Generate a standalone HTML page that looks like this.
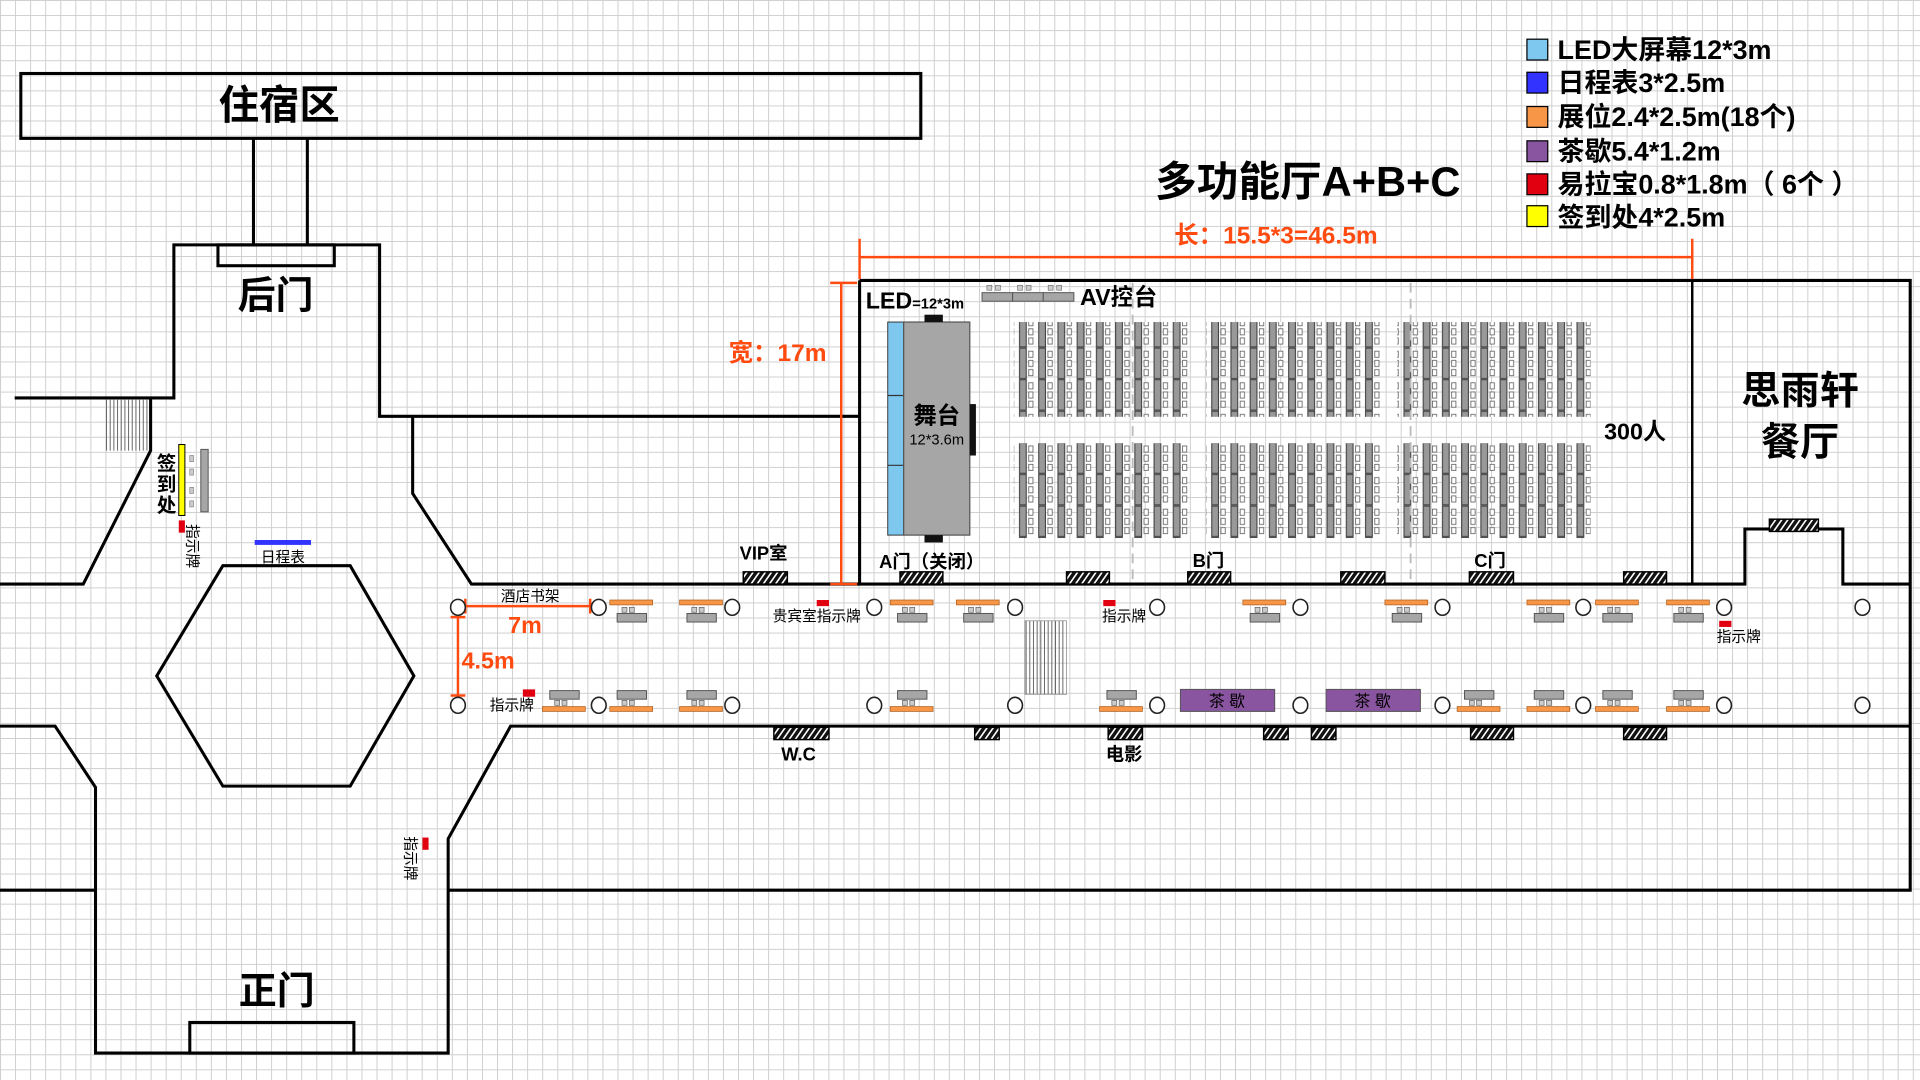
<!DOCTYPE html>
<html><head><meta charset="utf-8"><style>
html,body{margin:0;padding:0;background:#fff;}
svg{display:block;}
text{font-family:"Liberation Sans","Noto Sans CJK SC",sans-serif;font-weight:bold;fill:#000;}
</style></head><body>
<svg width="1920" height="1080" viewBox="0 0 1568 882" preserveAspectRatio="none" xmlns="http://www.w3.org/2000/svg">
<defs>
<pattern id="grid" width="12.3" height="12.3" patternUnits="userSpaceOnUse">
<rect width="12.3" height="12.3" fill="#fff"/>
<path d="M0 0V12.3M0 0H12.3" stroke="#cfcfcf" stroke-width="1.6" fill="none"/>
</pattern>
<pattern id="hatch" width="5" height="10" patternUnits="userSpaceOnUse" patternTransform="skewX(-35)">
<rect width="5" height="10" fill="#111"/><rect x="1.5" width="1.6" height="10" fill="#fff"/>
</pattern>
<pattern id="seat" x="0" y="0" width="15.7" height="25.8" patternUnits="userSpaceOnUse">
<rect x="0.5" y="0.5" width="5.5" height="24.8" fill="#999" stroke="#444" stroke-width="0.9"/>
<rect x="8" y="3" width="3.5" height="5" fill="#fff" stroke="#666" stroke-width="0.7"/>
<rect x="8" y="10.5" width="3.5" height="5" fill="#fff" stroke="#666" stroke-width="0.7"/>
<rect x="8" y="18" width="3.5" height="5" fill="#fff" stroke="#666" stroke-width="0.7"/>
</pattern>
<g id="boothT"><rect x="0" y="0" width="35" height="4" fill="#f79646" stroke="#b06020" stroke-width="0.6"/><rect x="10" y="6" width="4" height="4" fill="#ccc" stroke="#666" stroke-width="0.6"/><rect x="16" y="6" width="4" height="4" fill="#ccc" stroke="#666" stroke-width="0.6"/><rect x="6" y="11" width="24" height="7" fill="#a6a6a6" stroke="#555" stroke-width="0.8"/></g>
<g id="boothB"><rect x="6" y="0" width="24" height="7" fill="#a6a6a6" stroke="#555" stroke-width="0.8"/><rect x="10" y="8" width="4" height="4" fill="#ccc" stroke="#666" stroke-width="0.6"/><rect x="16" y="8" width="4" height="4" fill="#ccc" stroke="#666" stroke-width="0.6"/><rect x="0" y="13" width="35" height="4" fill="#f79646" stroke="#b06020" stroke-width="0.6"/></g>
</defs>
<rect width="1568" height="882" fill="url(#grid)"/>

<g fill="none" stroke="#000" stroke-width="2.5">
<rect x="17" y="60" width="735" height="53"/>
<path d="M207 113V200M251 113V200"/>
<path d="M12 325H142V200H310V340H702"/>
<rect x="178" y="200" width="95" height="17"/>
<path d="M123 326V368L68 477H0"/>
<path d="M337 340V403L385 477H702"/>
<path d="M702 229H1560V727H366"/>
<path d="M702 229V477H1425V432H1505V477H1560"/>
<path d="M1382 229V477" stroke-width="2"/>
<path d="M1560 593H417L366 685V860H78V643L45 593H0"/>
<path d="M0 727H78"/>
<rect x="155" y="835" width="134" height="25"/>
<polygon points="128,552 182,462 286,462 338,552 286,642 182,642"/>
</g>
<g stroke="#666" stroke-width="0.8">
<path d="M87 326V368M90 326V368M93 326V368M96 326V368M99 326V368M102 326V368M105 326V368M108 326V368M111 326V368M114 326V368M117 326V368M120 326V368"/>
<path d="M838 507V567M841 507V567M844 507V567M847 507V567M850 507V567M853 507V567M856 507V567M859 507V567M862 507V567M865 507V567M868 507V567"/>
</g>
<rect x="837" y="507" width="34" height="60" fill="none" stroke="#888" stroke-width="0.6"/>

<text x="228" y="97" font-size="33" text-anchor="middle">住宿区</text>
<text x="225" y="252" font-size="31" text-anchor="middle">后门</text>
<text x="226" y="820" font-size="31" text-anchor="middle">正门</text>
<text x="1470" y="330" font-size="32" text-anchor="middle">思雨轩</text>
<text x="1470" y="372" font-size="32" text-anchor="middle">餐厅</text>
<text x="1068" y="160" font-size="34" text-anchor="middle">多功能厅A+B+C</text>

<g stroke="#000" stroke-width="1">
<rect x="1247" y="32" width="17" height="17" fill="#7ec8f0"/>
<rect x="1247" y="59" width="17" height="17" fill="#3333ff"/>
<rect x="1247" y="87" width="17" height="17" fill="#f79646"/>
<rect x="1247" y="115" width="17" height="17" fill="#8a55a0"/>
<rect x="1247" y="142" width="17" height="17" fill="#e00010"/>
<rect x="1247" y="168" width="17" height="17" fill="#ffff00"/>
</g>
<g font-size="22">
<text x="1272" y="48">LED大屏幕12*3m</text>
<text x="1272" y="75">日程表3*2.5m</text>
<text x="1272" y="103">展位2.4*2.5m(18个)</text>
<text x="1272" y="131">茶歇5.4*1.2m</text>
<text x="1272" y="158">易拉宝0.8*1.8m（ 6个 ）</text>
<text x="1272" y="185">签到处4*2.5m</text>
</g>

<g stroke="#ff4a10" stroke-width="2" fill="none">
<path d="M702 210H1382M702 195V228M1382 195V228"/>
<path d="M687 231V477M678 231H700M678 477H700"/>
<path d="M380 495H482M380 489V501M482 489V501"/>
<path d="M374 504V568M368 504H380M368 568H380"/>
</g>
<text x="1042" y="199" font-size="20" text-anchor="middle" style="fill:#ff4a10">长：15.5*3=46.5m</text>
<text x="595" y="295" font-size="20" style="fill:#ff4a10">宽：17m</text>
<text x="415" y="517" font-size="19" style="fill:#ff4a10">7m</text>
<text x="377" y="546" font-size="19" style="fill:#ff4a10">4.5m</text>

<text x="707" y="252" font-size="19">LED<tspan font-size="12">=12*3m</tspan></text>
<g fill="#a6a6a6" stroke="#555" stroke-width="0.8">
<rect x="802" y="239" width="25" height="7"/><rect x="827" y="239" width="25" height="7"/><rect x="852" y="239" width="25" height="7"/>
</g>
<g fill="#ccc" stroke="#666" stroke-width="0.5">
<rect x="806" y="233" width="4" height="4"/><rect x="813" y="233" width="4" height="4"/><rect x="831" y="233" width="4" height="4"/><rect x="838" y="233" width="4" height="4"/><rect x="856" y="233" width="4" height="4"/><rect x="863" y="233" width="4" height="4"/>
</g>
<text x="882" y="249" font-size="19">AV控台</text>
<rect x="725" y="263" width="13" height="174" fill="#7ec8f0" stroke="#333" stroke-width="0.8"/>
<path d="M725 323H738M725 380H738" stroke="#333" stroke-width="1"/>
<rect x="738" y="263" width="54" height="174" fill="#a6a6a6" stroke="#555" stroke-width="1"/>
<rect x="755" y="257" width="15" height="6" fill="#111"/>
<rect x="755" y="437" width="15" height="6" fill="#111"/>
<rect x="792" y="330" width="5" height="42" fill="#111"/>
<text x="765" y="346" font-size="19" text-anchor="middle">舞台</text>
<text x="765" y="363" font-size="12" text-anchor="middle" style="font-weight:normal">12*3.6m</text>

<g fill="url(#seat)">
<rect x="828" y="263" width="142" height="77.4"/>
<rect x="985" y="263" width="142" height="77.4"/>
<rect x="1141" y="263" width="158" height="77.4"/>
<rect x="828" y="362" width="142" height="77.4"/>
<rect x="985" y="362" width="142" height="77.4"/>
<rect x="1141" y="362" width="158" height="77.4"/>
</g>
<path d="M925 231V477M1152 231V477" stroke="#bbb" stroke-width="1.5" stroke-dasharray="8 5"/>
<text x="1310" y="359" font-size="19">300人</text>

<g fill="url(#hatch)" stroke="#000" stroke-width="1.2">
<rect x="607" y="467" width="36" height="10"/>
<rect x="735" y="467" width="35" height="10"/>
<rect x="871" y="467" width="35" height="10"/>
<rect x="970" y="467" width="35" height="10"/>
<rect x="1095" y="467" width="36" height="10"/>
<rect x="1200" y="467" width="36" height="10"/>
<rect x="1326" y="467" width="35" height="10"/>
<rect x="1445" y="424" width="40" height="10"/>
<rect x="632" y="594" width="45" height="10"/>
<rect x="796" y="594" width="20" height="10"/>
<rect x="905" y="594" width="28" height="10"/>
<rect x="1032" y="594" width="20" height="10"/>
<rect x="1071" y="594" width="20" height="10"/>
<rect x="1201" y="594" width="35" height="10"/>
<rect x="1326" y="594" width="35" height="10"/>
</g>
<g font-size="15">
<text x="604" y="457">VIP室</text>
<text x="718" y="464">A门（关闭）</text>
<text x="974" y="463">B门</text>
<text x="1204" y="463">C门</text>
<text x="638" y="621">W.C</text>
<text x="903" y="621">电影</text>
</g>

<g fill="#fff" stroke="#222" stroke-width="1.3">
<ellipse cx="374" cy="496" rx="6" ry="6.5"/><ellipse cx="489" cy="496" rx="6" ry="6.5"/><ellipse cx="598" cy="496" rx="6" ry="6.5"/><ellipse cx="714" cy="496" rx="6" ry="6.5"/><ellipse cx="829" cy="496" rx="6" ry="6.5"/><ellipse cx="945" cy="496" rx="6" ry="6.5"/><ellipse cx="1062" cy="496" rx="6" ry="6.5"/><ellipse cx="1178" cy="496" rx="6" ry="6.5"/><ellipse cx="1293" cy="496" rx="6" ry="6.5"/><ellipse cx="1408" cy="496" rx="6" ry="6.5"/><ellipse cx="1521" cy="496" rx="6" ry="6.5"/>
<ellipse cx="374" cy="576" rx="6" ry="6.5"/><ellipse cx="489" cy="576" rx="6" ry="6.5"/><ellipse cx="598" cy="576" rx="6" ry="6.5"/><ellipse cx="714" cy="576" rx="6" ry="6.5"/><ellipse cx="829" cy="576" rx="6" ry="6.5"/><ellipse cx="945" cy="576" rx="6" ry="6.5"/><ellipse cx="1062" cy="576" rx="6" ry="6.5"/><ellipse cx="1178" cy="576" rx="6" ry="6.5"/><ellipse cx="1293" cy="576" rx="6" ry="6.5"/><ellipse cx="1408" cy="576" rx="6" ry="6.5"/><ellipse cx="1521" cy="576" rx="6" ry="6.5"/>
</g>

<use href="#boothT" x="498" y="490"/><use href="#boothT" x="555" y="490"/><use href="#boothT" x="727" y="490"/><use href="#boothT" x="781" y="490"/><use href="#boothT" x="1015" y="490"/><use href="#boothT" x="1131" y="490"/><use href="#boothT" x="1247" y="490"/><use href="#boothT" x="1303" y="490"/><use href="#boothT" x="1361" y="490"/>
<use href="#boothB" x="443" y="564"/><use href="#boothB" x="498" y="564"/><use href="#boothB" x="555" y="564"/><use href="#boothB" x="727" y="564"/><use href="#boothB" x="898" y="564"/><use href="#boothB" x="1190" y="564"/><use href="#boothB" x="1247" y="564"/><use href="#boothB" x="1303" y="564"/><use href="#boothB" x="1361" y="564"/>

<rect x="964" y="563" width="77" height="18" fill="#8a55a0" stroke="#555" stroke-width="0.8"/>
<rect x="1083" y="563" width="77" height="18" fill="#8a55a0" stroke="#555" stroke-width="0.8"/>
<text x="1002" y="577" font-size="13" text-anchor="middle" style="font-weight:normal">茶 歇</text>
<text x="1121" y="577" font-size="13" text-anchor="middle" style="font-weight:normal">茶 歇</text>

<g fill="#e00010">
<rect x="427" y="563" width="10" height="6"/>
<rect x="667" y="490" width="10" height="5"/>
<rect x="901" y="490" width="10" height="5"/>
<rect x="1404" y="507" width="10" height="5"/>
<rect x="146" y="425" width="5" height="10"/>
<rect x="345" y="684" width="5" height="10"/>
</g>
<g font-size="12">
<text x="400" y="580" style="font-weight:normal">指示牌</text>
<text x="631" y="507" style="font-weight:normal">贵宾室指示牌</text>
<text x="900" y="507" style="font-weight:normal">指示牌</text>
<text x="1402" y="524" style="font-weight:normal">指示牌</text>
<text x="433" y="491" text-anchor="middle" style="font-weight:normal">酒店书架</text>
<text x="231" y="459" text-anchor="middle" style="font-weight:normal">日程表</text>
<text transform="translate(153,428) rotate(90)" style="font-weight:normal">指示牌</text>
<text transform="translate(331,683) rotate(90)" style="font-weight:normal">指示牌</text>
</g>
<rect x="208" y="441" width="46" height="4" fill="#3333ff"/>

<rect x="146" y="363" width="5" height="58" fill="#ffff00" stroke="#000" stroke-width="0.8"/>
<rect x="164" y="367" width="6" height="51" fill="#a6a6a6" stroke="#555" stroke-width="0.8"/>
<g fill="#ccc" stroke="#777" stroke-width="0.5">
<rect x="155" y="372" width="3" height="5"/><rect x="155" y="383" width="3" height="5"/><rect x="155" y="398" width="3" height="5"/><rect x="155" y="409" width="3" height="5"/>
</g>
<text x="136" y="384" font-size="16" text-anchor="middle">签</text>
<text x="136" y="401" font-size="16" text-anchor="middle">到</text>
<text x="136" y="418" font-size="16" text-anchor="middle">处</text>
</svg>
</body></html>
